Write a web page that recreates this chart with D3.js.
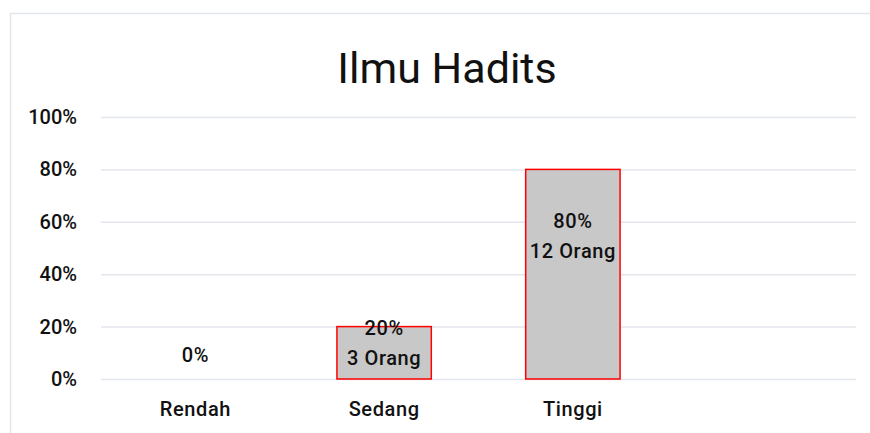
<!DOCTYPE html>
<html><head><meta charset="utf-8">
<script src="https://cdn.jsdelivr.net/npm/d3@7"></script>
<style>body{margin:0;background:#fff}svg{display:block}text{font-family:Roboto,"DejaVu Sans",sans-serif;fill:#111}</style>
</head><body>
<svg id="c" width="870" height="433"></svg>
<script>
const title = "Ilmu Hadits";
const categories = ["Rendah", "Sedang", "Tinggi", ""];
const values = [0, 0.2, 0.8, null];
const counts = [0, 3, 12, null];
const yTicks = [0, 0.2, 0.4, 0.6, 0.8, 1.0];

const svg = d3.select("#c");
const W = 870, H = 433;
const m = {l: 101, r: 14, t: 117, b: 54};
const FS = 20;
const x = d3.scaleBand().domain(categories.map((c,i)=>i)).range([m.l, W - m.r]).paddingInner(0.5).paddingOuter(0.25);
const y = d3.scaleLinear().domain([0, 1]).range([H - m.b, m.t]);

// chart border
svg.append("path").attr("d", `M10.5,${H} V13.5 H${W}`).attr("fill","none").attr("stroke","#e1e5ec").attr("stroke-width",1.5);

// gridlines
const gy = svg.append("g").attr("transform", `translate(${m.l},0)`)
  .call(d3.axisLeft(y).tickValues(yTicks).tickSize(-(W - m.r - m.l)).tickFormat(d3.format(".0%")).tickPadding(24));
gy.select(".domain").remove();
gy.selectAll(".tick line").attr("stroke","#e3e6ec").attr("stroke-width",1.5);
gy.selectAll(".tick text").attr("font-size",FS).attr("font-weight",500).attr("fill","#111");

// bars
const data = values.map((v,i)=>({i, v, n: counts[i], c: categories[i]})).filter(d=>d.v!==null);
svg.selectAll("rect.bar").data(data.filter(d=>d.v>0)).join("rect")
  .attr("x", d=>x(d.i)).attr("width", x.bandwidth())
  .attr("y", d=>y(d.v)).attr("height", d=>y(0)-y(d.v))
  .attr("fill","#c8c8c8").attr("stroke","#ff0000").attr("stroke-width",1.5);

// x axis labels
const gx = svg.append("g").attr("transform", `translate(0,${y(0)})`)
  .call(d3.axisBottom(x).tickSize(0).tickPadding(23).tickFormat(i=>categories[i]));
gx.select(".domain").remove();
gx.selectAll(".tick text").attr("font-size",FS).attr("font-weight",500).attr("fill","#111").attr("letter-spacing",0.6);

// data labels
const lab = svg.selectAll("g.lab").data(data).join("g").attr("class","lab");
lab.each(function(d){
  const g = d3.select(this);
  const cx = x(d.i) + x.bandwidth()/2;
  const t = (yy, s) => g.append("text").attr("x",cx).attr("y",yy).attr("text-anchor","middle")
      .attr("dominant-baseline","central").attr("font-size",FS).attr("font-weight",500).attr("letter-spacing",0.6).text(s);
  if (d.v === 0) {
    t(y(0)-24, d3.format(".0%")(d.v));
  } else {
    const cy = y(d.v) + (y(0)-y(d.v))*0.32;
    t(cy-15, d3.format(".0%")(d.v));
    t(cy+15, d.n + " Orang");
  }
});

// title
svg.append("text").attr("x",447).attr("y",68).attr("text-anchor","middle").attr("dominant-baseline","central")
  .attr("font-size",43).text(title);
</script>
</body></html>
